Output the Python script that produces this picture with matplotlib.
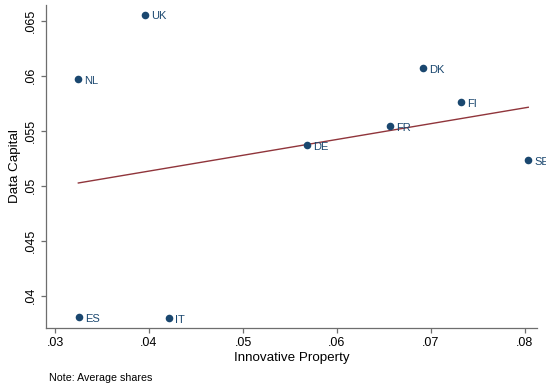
import numpy as np
import matplotlib.pyplot as plt

plt.rcParams['font.family'] = ['Liberation Sans', 'DejaVu Sans']

countries = ['UK', 'NL', 'ES', 'IT', 'DK', 'FI', 'FR', 'SE', 'DE']
innov_prop = [0.0396, 0.03248, 0.03255, 0.04216, 0.06918, 0.07319, 0.06564, 0.08035, 0.0568]
data_cap = [0.06555, 0.05967, 0.03806, 0.03794, 0.0607, 0.05761, 0.0554, 0.0523, 0.0537]

xticks = [0.03, 0.04, 0.05, 0.06, 0.07, 0.08]
yticks = [0.04, 0.045, 0.05, 0.055, 0.06, 0.065]

navy = '#1a476f'
maroon = '#90353b'
axcol = '#6e6e6e'

x = np.array(innov_prop)
y = np.array(data_cap)

fig = plt.figure(figsize=(5.46, 3.88), dpi=100)
ax = fig.add_axes([46 / 546, 1 - 328 / 388, (537 - 46) / 546, (328 - 5) / 388])

ax.scatter(x, y, s=30, color=navy, zorder=3, linewidths=0)
for c, xi, yi in zip(countries, x, y):
    ax.annotate(c, (xi, yi), xytext=(4.2, -1.2), textcoords='offset points',
                ha='left', va='center', fontsize=8, color=navy)

# linear fit across the observed range
b, a = np.polyfit(x, y, 1)
xf = np.array([x.min(), x.max()])
ax.plot(xf, a + b * xf, color=maroon, lw=1.0, zorder=2)

ax.set_xlim(0.02904, 0.08128)
ax.set_ylim(0.037064, 0.066427)
ax.set_xticks(xticks)
ax.set_xticklabels([('%g' % v).lstrip('0') for v in xticks])
ax.set_yticks(yticks)
ax.set_yticklabels([('%g' % v).lstrip('0') for v in yticks], rotation=90, va='center')

for s in ['top', 'right']:
    ax.spines[s].set_visible(False)
for s in ['left', 'bottom']:
    ax.spines[s].set_color(axcol)
    ax.spines[s].set_linewidth(0.9)
ax.tick_params(direction='out', length=3.5, width=0.9, color=axcol,
               labelsize=9, pad=3)

ax.set_xlabel('Innovative Property', fontsize=9.6, labelpad=2)
ax.set_ylabel('Data Capital', fontsize=9.6, labelpad=3)

fig.text(49 / 546, 1 - 378 / 388, 'Note: Average shares', fontsize=7.7,
         ha='left', va='center')

fig.savefig('out.png', dpi=100)
